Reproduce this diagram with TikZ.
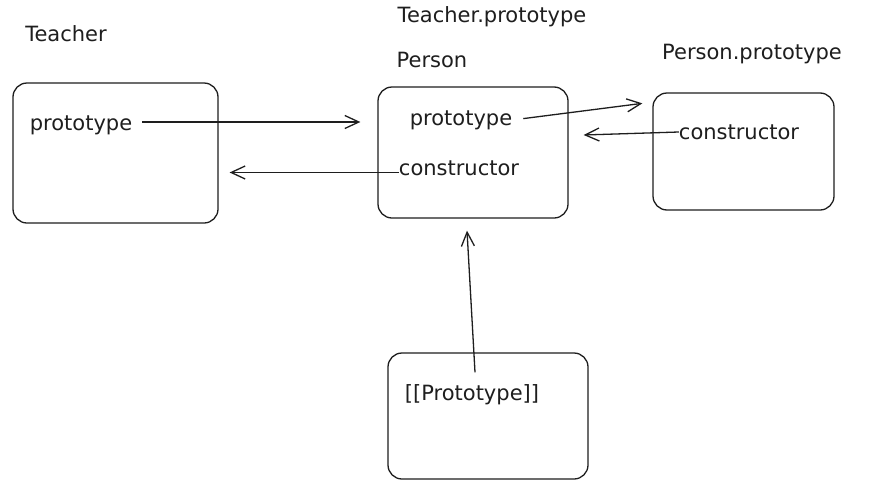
\documentclass[tikz,border=0pt]{standalone}
\usepackage{fontspec}
\setmainfont{DejaVu Sans}
\usepackage{tikz}
\usetikzlibrary{arrows.meta,positioning,calc}
\definecolor{inkc}{HTML}{1E1E1E}
\tikzset{
  >={Straight Barb[length=14pt,width=13pt,line width=1.3pt]},
  objbox/.style={draw=inkc,line width=1.3pt,rounded corners=14pt,fill=white},
  lbl/.style={font=\fontsize{21}{25}\selectfont,text=inkc,inner sep=0pt},
  link/.style={->,draw=inkc,line width=1.3pt},
}

\begin{document}
\begin{tikzpicture}[x=1pt,y=-1pt]
  \useasboundingbox[fill=white] (0,0) rectangle (890,498);
  % boxes
  \node[objbox,minimum width=205pt,minimum height=140pt] (teacher) at (115.5,153) {};
  \node[objbox,minimum width=190pt,minimum height=131pt] (person) at (473,152.5) {};
  \node[objbox,minimum width=181pt,minimum height=117pt] (pproto) at (743.5,151.5) {};
  \node[objbox,minimum width=200pt,minimum height=126pt] (hidden) at (488,416) {};
  % titles
  \node[lbl] (tname) at (66,34) {Teacher};
  \node[lbl] (tpname) at (492,17) {Teacher.prototype};
  \node[lbl] (pname) at (432,60) {Person};
  \node[lbl] (ppname) at (752,54) {Person.prototype};
  % fields
  \node[lbl] (tfield) at (81,125) {prototype};
  \node[lbl] (pfield) at (461,120) {prototype};
  \node[lbl] (pcons) at (459,168) {constructor};
  \node[lbl] (ppcons) at (739,132) {constructor};
  \node[lbl] (hfield) at (472,395) {[[Prototype]]};
  % links
  \draw[link,shorten <=10pt,shorten >=17pt] ($(tfield.east)+(0,-3)$) -- ($(tfield.east -| person.west)+(0,-3)$);
  \draw[link,shorten >=11pt] (pcons.mid west) -- (pcons.mid west -| teacher.east);
  \draw[link,shorten <=11pt] (pfield.east) -- ($(pproto.north west)+(-10,11)$);
  \draw[link] (ppcons.west) -- ($(ppcons.west -| person.east)+(15,3)$);
  \draw[link] ($(hidden.north)+(-13,20)$) -- ($(person.south)+(-6,12)$);
\end{tikzpicture}
\end{document}
